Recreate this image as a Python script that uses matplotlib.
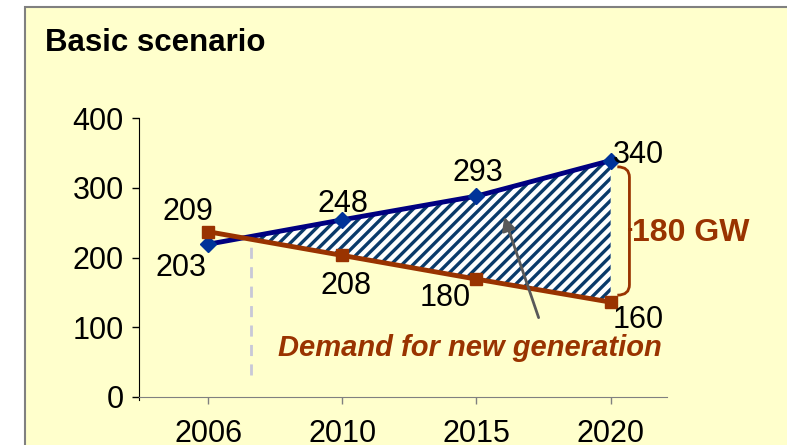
import matplotlib
matplotlib.use('Agg')
import matplotlib.pyplot as plt
import matplotlib.patches as mpatches
from matplotlib.path import Path
import numpy as np

plt.rcParams['font.family'] = ['Liberation Sans', 'DejaVu Sans']

# data
years = ['2006', '2010', '2015', '2020']
capacity = [219, 254, 288, 339]       # blue line
demand = [237, 203, 169, 136]         # red line
capacity_labels = ['203', '248', '293', '340']
demand_labels = ['209', '208', '180', '160']
y_ticks = [0, 100, 200, 300, 400]

BLUE = '#000080'
BLUE_MK = '#003399'
RED = '#993300'
YELLOW = '#FFFFCC'

W, H = 787, 445
fig = plt.figure(figsize=(W / 100, H / 100), dpi=100)
fig.patch.set_facecolor('white')

# yellow panel with grey border (left and top visible)
frame = mpatches.Rectangle((25 / W, -0.05), 1.2, 1 - 7 / H + 0.05,
                           transform=fig.transFigure, facecolor=YELLOW,
                           edgecolor='#808080', linewidth=1.5, zorder=-10)
fig.patches.append(frame)

fig.text(45 / W, 1 - 43 / H, 'Basic scenario', fontsize=22.5, fontweight='bold',
         va='center', ha='left')

ax = fig.add_axes([139 / W, 1 - 397 / H, (667 - 139) / W, (397 - 118) / H])
ax.set_facecolor('none')

x = np.arange(len(years))
cap = np.array(capacity)
dem = np.array(demand)

# hatched gap between the two lines
plt.rcParams['hatch.linewidth'] = 2.4
ax.fill_between(x, dem, cap, where=cap >= dem, interpolate=True,
                facecolor='white', edgecolor='#0A3A6A', hatch='///',
                linewidth=0, zorder=1)

ax.plot(x, cap, color=BLUE, linewidth=3.5, marker='D', markersize=8,
        markerfacecolor=BLUE_MK, markeredgecolor=BLUE_MK, zorder=3)
ax.plot(x, dem, color=RED, linewidth=3.5, marker='s', markersize=9,
        markerfacecolor=RED, markeredgecolor=RED, zorder=3)

# data labels
cap_off = [(-27, -24), (1, 16), (1, 23), (28, 6)]
dem_off = [(-20, 20), (4, -31), (-31, -19), (28, -18)]
for i in range(len(years)):
    ax.annotate(capacity_labels[i], (x[i], cap[i]), xytext=cap_off[i],
                textcoords='offset pixels', ha='center', va='center',
                fontsize=22, zorder=5)
    ax.annotate(demand_labels[i], (x[i], dem[i]), xytext=dem_off[i],
                textcoords='offset pixels', ha='center', va='center',
                fontsize=22, zorder=5)

# dashed marker at the crossing
ax.plot([0.32, 0.32], [31, 225], color='#C8C8D8', linewidth=2,
        linestyle=(0, (4, 3)), zorder=2)

# arrow pointing into the gap
ax.annotate('', xy=(2.2, 262), xytext=(2.47, 110),
            arrowprops=dict(arrowstyle='-|>,head_length=0.8,head_width=0.4',
                            color='#595959', linewidth=2), zorder=6)

ax.text(1.95, 70, 'Demand for new generation', color=RED, fontsize=21,
        fontweight='bold', fontstyle='italic', ha='center', va='center')

# curly brace between the 2020 values
bx, top, bot = 3.05, 330, 146
mid = 240
dx = 0.09
verts = [(bx, top), (bx + dx, top), (bx + dx, top - 15), (bx + dx, top - 30),
         (bx + dx, mid + 8), (bx + dx, mid), (bx + dx + 0.04, mid),
         (bx + dx, mid), (bx + dx, mid - 8),
         (bx + dx, bot + 30), (bx + dx, bot + 15), (bx + dx, bot), (bx, bot)]
codes = [Path.MOVETO, Path.CURVE3, Path.CURVE3, Path.LINETO,
         Path.CURVE3, Path.CURVE3, Path.CURVE3, Path.CURVE3,
         Path.LINETO, Path.CURVE3, Path.CURVE3, Path.CURVE3, Path.CURVE3]
brace = mpatches.PathPatch(Path(verts, codes), facecolor='none',
                           edgecolor=RED, linewidth=2, zorder=4)
ax.add_patch(brace)

ax.text(3.16, 235, '180 GW', color=RED, fontsize=23, fontweight='bold',
        ha='left', va='center')

ax.set_xlim(-0.515, 3.42)
ax.set_ylim(0, 400)
ax.set_xticks(x)
ax.set_xticklabels(years)
ax.set_yticks(y_ticks)
ax.tick_params(axis='both', labelsize=22, direction='out', length=5,
               width=1)
ax.tick_params(axis='x', colors='#808080', labelcolor='black', pad=11)
ax.tick_params(axis='y', pad=6)

for side in ['top', 'right']:
    ax.spines[side].set_visible(False)
ax.spines['left'].set_color('black')
ax.spines['bottom'].set_color('#808080')
ax.spines['left'].set_bounds(-4, 400)

fig.savefig('out.png', dpi=100)
